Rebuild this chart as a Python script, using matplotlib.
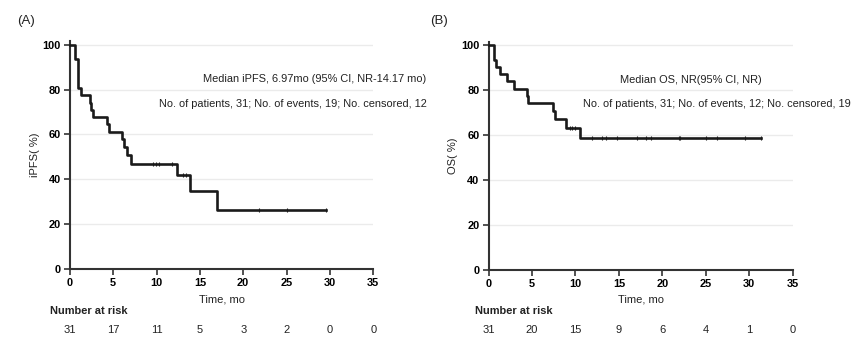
import numpy as np
import matplotlib
matplotlib.use("Agg")
import matplotlib.pyplot as plt
import matplotlib.transforms as mtransforms

plt.rcParams['font.family'] = ['Liberation Sans', 'DejaVu Sans']

# ---------------- data ----------------
a_times = [0, 0.58, 0.97, 1.3, 2.3, 2.4, 2.65, 4.3, 4.5, 6.07, 6.3, 6.6, 7.0, 12.4, 13.9, 17.0]
a_surv = [100, 93.5, 80.6, 77.4, 74.2, 71.0, 67.7, 64.5, 61.3, 58.1, 54.6, 50.9, 47.0, 41.7, 34.8, 26.1]
a_end = 29.55
a_censor = [9.62, 9.93, 10.24, 11.74, 13.1, 13.4, 21.8, 25.1, 29.55]
a_risk = [31, 17, 11, 5, 3, 2, 0, 0]

b_times = [0, 0.58, 0.89, 1.31, 2.07, 2.96, 4.4, 4.55, 7.37, 7.6, 8.94, 10.48]
b_surv = [100, 93.5, 90.3, 87.1, 83.9, 80.6, 77.4, 74.2, 70.9, 67.0, 63.0, 58.7]
b_end = 31.4
b_censor = [9.33, 9.64, 9.95, 11.9, 13.05, 13.55, 14.78, 17.08, 18.15, 18.7,
            21.86, 22.05, 25.05, 26.28, 29.55, 31.4]
b_risk = [31, 20, 15, 9, 6, 4, 1, 0]

risk_ticks = [0, 5, 10, 15, 20, 25, 30, 35]

W, H = 861, 344
fig = plt.figure(figsize=(W / 100, H / 100), dpi=100)


def px_axes(x0, x35, y0, y100):
    ymax = 101.5
    ppu = (y0 - y100) / 100.0
    top = y0 - ymax * ppu
    return fig.add_axes([x0 / W, (H - y0) / H, (x35 - x0) / W, (y0 - top) / H])


def draw_panel(ax, times, surv, end, censor, risk, ylabel, label, label_x,
               risk_title_x, texts):
    ax.set_xlim(0, 35)
    ax.set_ylim(0, 101.5)
    for y in [20, 40, 60, 80, 100]:
        ax.plot([0, 35], [y, y], color='#ebebeb', lw=1.0, zorder=0)
    xs = list(times) + [end]
    ys = list(surv) + [surv[-1]]
    ax.step(xs, ys, where='post', color='#1a1a1a', lw=1.9, zorder=3, clip_on=False)
    idx = np.searchsorted(np.array(times), np.array(censor), side='right') - 1
    cy = np.array(surv)[idx]
    ax.plot(censor, cy, linestyle='none', marker='|', markersize=3.5,
            markeredgewidth=0.8, color='#1a1a1a', zorder=4, clip_on=False)
    for s in ['top', 'right']:
        ax.spines[s].set_visible(False)
    for s in ['left', 'bottom']:
        ax.spines[s].set_color('#333333')
        ax.spines[s].set_linewidth(1.5)
    ax.set_xticks(risk_ticks)
    ax.set_yticks([0, 20, 40, 60, 80, 100])
    ax.tick_params(axis='both', direction='out', length=4, width=1.2,
                   color='#333333', labelsize=7.9, pad=2.5)
    for t in ax.get_xticklabels() + ax.get_yticklabels():
        t.set_fontweight('bold')
    ax.set_ylabel(ylabel, fontsize=8, color='#222222', labelpad=2)
    trans = mtransforms.blended_transform_factory(ax.transData, fig.transFigure)
    ax.text(17.5, (H - 299) / H, 'Time, mo', transform=trans, ha='center',
            va='center', fontsize=8, color='#222222')
    for xv, r in zip(risk_ticks, risk):
        ax.text(xv, (H - 330) / H, str(r), transform=trans, ha='center',
                va='center', fontsize=8, color='#222222')
    fig.text(risk_title_x / W, (H - 311) / H, 'Number at risk', ha='left',
             va='center', fontsize=7.9, fontweight='bold', color='#222222')
    fig.text(label_x / W, (H - 21) / H, label, ha='left', va='center',
             fontsize=9.5, color='#222222')
    for (tx, ty, s, ha) in texts:
        fig.text(tx / W, (H - ty) / H, s, ha=ha, va='center', fontsize=7.9,
                 color='#222222')


axA = px_axes(69.8, 373.3, 269.0, 44.7)
draw_panel(axA, a_times, a_surv, a_end, a_censor, a_risk, 'iPFS( %)', '(A)', 17,
           50, [(426.7, 79.3, 'Median iPFS, 6.97mo (95% CI, NR-14.17 mo)', 'right'),
                (426.7, 104.3, 'No. of patients, 31; No. of events, 19; No. censored, 12', 'right')])

axB = px_axes(488.6, 792.7, 270.0, 45.3)
draw_panel(axB, b_times, b_surv, b_end, b_censor, b_risk, 'OS( %)', '(B)', 430,
           475, [(690.8, 80.3, 'Median OS, NR(95% CI, NR)', 'center'),
                 (716.7, 104.3, 'No. of patients, 31; No. of events, 12; No. censored, 19', 'center')])

fig.savefig('out.png', dpi=100)
